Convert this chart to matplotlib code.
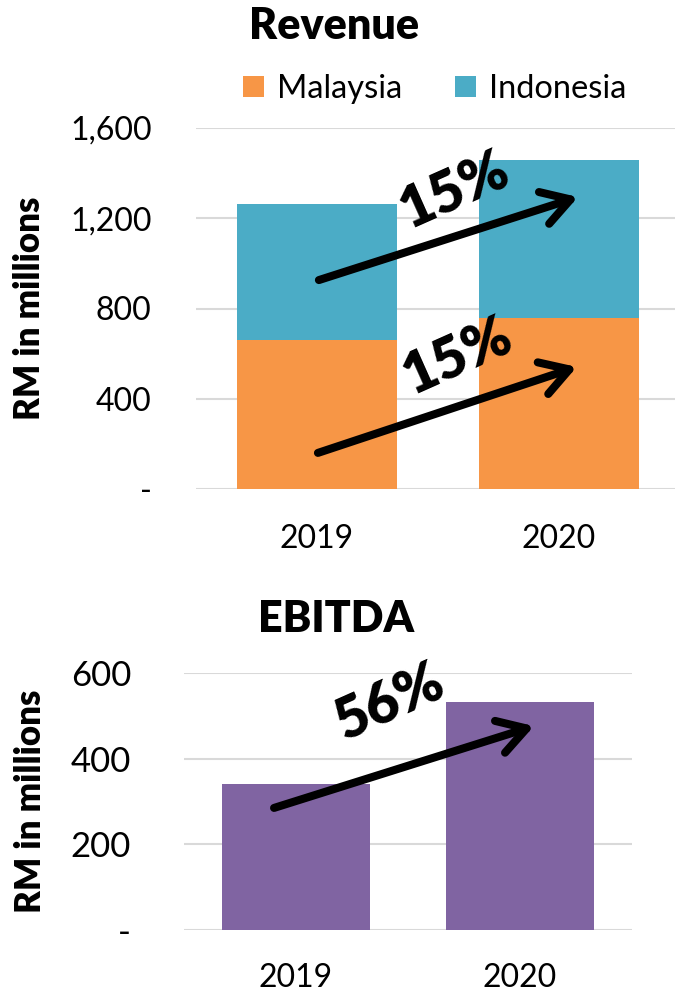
import matplotlib
matplotlib.use("Agg")
import matplotlib.pyplot as plt
from matplotlib.ticker import FuncFormatter

plt.rcParams['font.family'] = ['Lato', 'DejaVu Sans']

years = ['2019', '2020']
malaysia = [659, 756]
indonesia = [606, 702]
ebitda = [340, 532]
revenue_growth = '15%'
ebitda_growth = '56%'

ORANGE = '#F79646'
BLUE = '#4BACC6'
PURPLE = '#8064A2'
GRID = '#D9D9D9'


def dash_zero(v, pos):
    return '-' if v == 0 else f'{int(v):,}'


def style_axis(ax, tick_size, ypad, xpad):
    for s in ax.spines.values():
        s.set_visible(False)
    ax.yaxis.grid(True, color=GRID, lw=1.5)
    ax.set_axisbelow(True)
    ax.tick_params(length=0)
    ax.tick_params(axis='y', labelsize=tick_size, pad=ypad)
    ax.tick_params(axis='x', labelsize=23, pad=xpad)
    ax.yaxis.set_major_formatter(FuncFormatter(dash_zero))
    ax.set_ylabel('RM in millions', fontsize=25, fontweight='heavy', va='center')


def growth_arrow(ax, start, end, label, text_xy, size=41):
    ax.annotate('', xy=end, xytext=start,
                arrowprops=dict(arrowstyle='->,head_length=0.5,head_width=0.3',
                                lw=5.8, color='black', mutation_scale=40,
                                shrinkA=0, shrinkB=0))
    ax.text(text_xy[0], text_xy[1], label, fontsize=size, fontweight='heavy',
            rotation=24, ha='center', va='center', zorder=5)


fig = plt.figure(figsize=(6.75, 9.94), dpi=100)

# Revenue (stacked)
ax1 = fig.add_axes([196 / 675, 1 - 489 / 994, 479 / 675, 361 / 994])
x = range(len(years))
ax1.bar(x, malaysia, width=0.66, color=ORANGE, label='Malaysia', zorder=2)
ax1.bar(x, indonesia, width=0.66, bottom=malaysia, color=BLUE, label='Indonesia', zorder=2)
ax1.set_xlim(-0.5, 1.48)
ax1.set_ylim(0, 1600)
ax1.set_yticks([0, 400, 800, 1200, 1600])
ax1.set_xticks(list(x))
ax1.set_xticklabels(years)
style_axis(ax1, 23, 32, 25)
ax1.yaxis.set_label_coords(-0.347, 0.5)
growth_arrow(ax1, (0.004, 160), (1.074, 541), revenue_growth, (0.579, 590))
growth_arrow(ax1, (0.008, 926), (1.079, 1294), revenue_growth, (0.566, 1325))

fig.text(334 / 675, 1 - 39 / 994, 'Revenue', fontsize=31, fontweight='heavy',
         ha='center', va='baseline')
fig.legend(loc='center left', bbox_to_anchor=(243 / 675, 1 - 89 / 994),
           ncol=2, frameon=False, fontsize=23.5, handlelength=0.65, handleheight=0.65,
           handletextpad=0.4, columnspacing=1.6, borderpad=0, borderaxespad=0)

# EBITDA
ax2 = fig.add_axes([184 / 675, 1 - 930 / 994, 448 / 675, 257 / 994])
ax2.bar(x, ebitda, width=0.665, color=PURPLE, zorder=2)
ax2.set_xlim(-0.5, 1.5)
ax2.set_ylim(0, 600)
ax2.set_yticks([0, 200, 400, 600])
ax2.set_xticks(list(x))
ax2.set_xticklabels(years)
style_axis(ax2, 25, 38, 24)
ax2.yaxis.set_label_coords(-0.342, 0.5)
growth_arrow(ax2, (-0.098, 285), (1.0625, 476), ebitda_growth, (0.415, 532))

fig.text(336 / 675, 1 - 632 / 994, 'EBITDA', fontsize=31, fontweight='heavy',
         ha='center', va='baseline')

fig.savefig('out.png', dpi=100)
